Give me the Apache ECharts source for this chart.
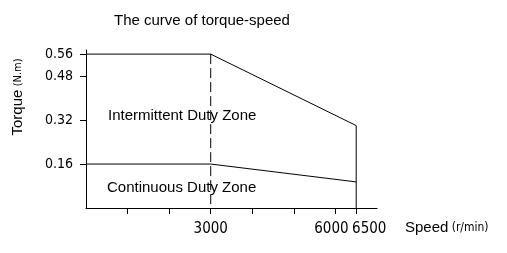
<!DOCTYPE html>
<html><head><meta charset="utf-8">
<script src="https://cdn.jsdelivr.net/npm/echarts@6/dist/echarts.min.js"></script>
<style>html,body{margin:0;padding:0;background:#fff}#c{width:507px;height:253px}</style>
</head><body><div id="c"></div>
<script>
const titleText = "The curve of torque-speed";
const xTicks = [1000, 2000, 3000, 4000, 5000, 6000, 6500];
const xLabels = [3000, 6000, 6500];
const yTicks = [0.16, 0.32, 0.48, 0.56];
const intermittentSpeed = [0, 3000, 6500, 6500];
const intermittentTorque = [0.56, 0.56, 0.30, 0];
const continuousSpeed = [0, 3000, 6500];
const continuousTorque = [0.16, 0.16, 0.095];
const cornerSpeed = [3000, 3000];
const cornerTorque = [0.56, 0];
const zoneNames = ["Intermittent Duty Zone", "Continuous Duty Zone"];
const axisNames = { y: ["Torque", "(N.m)"], x: ["Speed", "(r/min)"] };

const pair = (xs, ys) => xs.map((x, i) => [x, ys[i]]);
const sans = "'Liberation Sans', Arial, sans-serif";
const narrow = "'Liberation Sans Narrow','DejaVu Sans Condensed','Liberation Sans',sans-serif";
const chart = echarts.init(document.getElementById('c'));
chart.setOption({
  animation: false,
  backgroundColor: '#fff',
  title: { text: titleText, left: 109, top: 8, textStyle: { fontFamily: sans, fontSize: 15, fontWeight: 'normal', color: '#000' } },
  grid: { left: 86, right: 130, top: 50, bottom: 45 },
  xAxis: {
    type: 'value', min: 0, max: 7000,
    axisLine: { lineStyle: { color: '#000', width: 1 } },
    axisTick: { show: true, length: 6, customValues: xTicks, lineStyle: { color: '#000' } },
    axisLabel: {
      customValues: xLabels, margin: 14, hideOverlap: false, fontFamily: narrow, fontSize: 15, color: '#000',
      formatter: v => v === 6500 ? '{r|' + v + '}' : (v === 6000 ? '{l|' + v + '}' : String(v)),
      rich: { r: { padding: [0, 0, 0, 26], fontFamily: narrow, fontSize: 15, color: '#000' }, l: { padding: [0, 8, 0, 0], fontFamily: narrow, fontSize: 15, color: '#000' } }
    },
    splitLine: { show: false }
  },
  yAxis: {
    type: 'value', min: 0, max: 0.575,
    axisLine: { show: true, lineStyle: { color: '#000', width: 1 } },
    axisTick: { show: true, length: 6, customValues: yTicks, lineStyle: { color: '#000' } },
    axisLabel: { customValues: yTicks, margin: 13, fontFamily: narrow, fontSize: 14, color: '#000', formatter: v => v.toFixed(2) },
    splitLine: { show: false }
  },
  series: [
    { type: 'line', data: pair(intermittentSpeed, intermittentTorque), symbol: 'none', lineStyle: { color: '#000', width: 1 } },
    { type: 'line', data: pair(continuousSpeed, continuousTorque), symbol: 'none', lineStyle: { color: '#000', width: 1 } },
    { type: 'line', data: pair(cornerSpeed, cornerTorque), symbol: 'none', lineStyle: { color: '#000', width: 1, type: [10, 4] } }
  ],
  graphic: [
    { type: 'text', left: 108, top: 108, style: { text: zoneNames[0], font: '15px "Liberation Sans", Arial, sans-serif', fill: '#000' } },
    { type: 'text', left: 107, top: 180, style: { text: zoneNames[1], font: '15px "Liberation Sans", Arial, sans-serif', fill: '#000' } },
    { type: 'text', x: 405, y: 228, style: { rich: { a: { fontFamily: sans, fontSize: 15, fill: '#000' }, b: { fontFamily: narrow, fontSize: 12, fill: '#000' } }, text: '{a|' + axisNames.x[0] + '} {b|' + axisNames.x[1] + '}', verticalAlign: 'middle' } },
    { type: 'text', x: 18, y: 97, rotation: Math.PI / 2, style: { rich: { a: { fontFamily: sans, fontSize: 15, fill: '#000' }, b: { fontFamily: narrow, fontSize: 11, fill: '#000' } }, text: '{a|' + axisNames.y[0] + '} {b|' + axisNames.y[1] + '}', align: 'center', verticalAlign: 'middle' } }
  ]
});
</script></body></html>
